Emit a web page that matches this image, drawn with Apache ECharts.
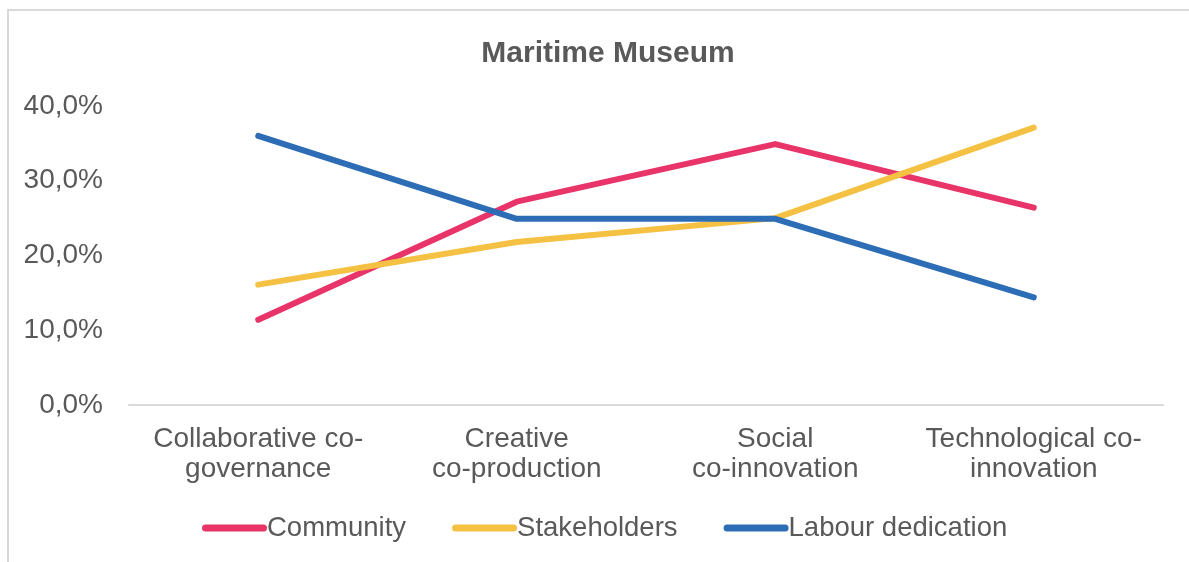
<!DOCTYPE html>
<html><head><meta charset="utf-8">
<script src="https://cdn.jsdelivr.net/npm/echarts@6/dist/echarts.min.js"></script>
<style>html,body{margin:0;padding:0;background:#fff}#c{width:1189px;height:562px}</style>
</head><body><div id="c"></div>
<script>
const categories = ['Collaborative co-\ngovernance', 'Creative\nco-production', 'Social\nco-innovation', 'Technological co-\ninnovation'];
const community = [11.4, 27.2, 34.9, 26.4];
const stakeholders = [16.1, 21.8, 25.0, 37.1];
const labour = [36.0, 24.9, 24.9, 14.4];
const seriesNames = ['Community', 'Stakeholders', 'Labour dedication'];
const colors = ['#E83468', '#F5C143', '#2C6DB6'];

const chart = echarts.init(document.getElementById('c'), null, {renderer: 'canvas'});
const font = 'Liberation Sans, Arial, sans-serif';
const mk = (name, data, color) => ({
  name, type: 'line', data, symbol: 'none', smooth: false,
  lineStyle: {color, width: 6, cap: 'round', join: 'round'},
  itemStyle: {color}
});
chart.setOption({
  animation: false,
  graphic: [{type: 'rect', shape: {x: 8, y: 10, width: 1200, height: 600},
    style: {fill: 'none', stroke: '#d9d9d9', lineWidth: 2}}],
  title: {text: 'Maritime Museum', left: 603, textAlign: 'center', top: 34,
    textStyle: {fontFamily: font, fontSize: 30, fontWeight: 'bold', color: '#595959'}},
  grid: {left: 129, right: 26, top: 106, bottom: 157, containLabel: false},
  xAxis: {type: 'category', data: categories, boundaryGap: true,
    axisLine: {lineStyle: {color: '#d9d9d9', width: 2}}, axisTick: {show: false},
    axisLabel: {fontFamily: font, fontSize: 28, color: '#595959', lineHeight: 30, margin: 19, interval: 0}},
  yAxis: {type: 'value', min: 0, max: 40, interval: 10,
    splitLine: {show: false}, axisLine: {show: false}, axisTick: {show: false},
    axisLabel: {fontFamily: font, fontSize: 28, color: '#595959', margin: 26,
      formatter: v => v.toFixed(1).replace('.', ',') + '%'}},
  legend: {data: seriesNames, left: 197, top: 509, itemWidth: 65, itemHeight: 7, itemGap: 46,
    icon: 'path://M3.5,0 L61.5,0 A3.5,3.5 0 0 1 61.5,7 L3.5,7 A3.5,3.5 0 0 1 3.5,0 Z',
    textStyle: {fontFamily: font, fontSize: 27.5, color: '#595959', padding: [0, 0, 0, -5]}},
  series: [mk(seriesNames[0], community, colors[0]), mk(seriesNames[1], stakeholders, colors[1]), mk(seriesNames[2], labour, colors[2])]
});
</script></body></html>
